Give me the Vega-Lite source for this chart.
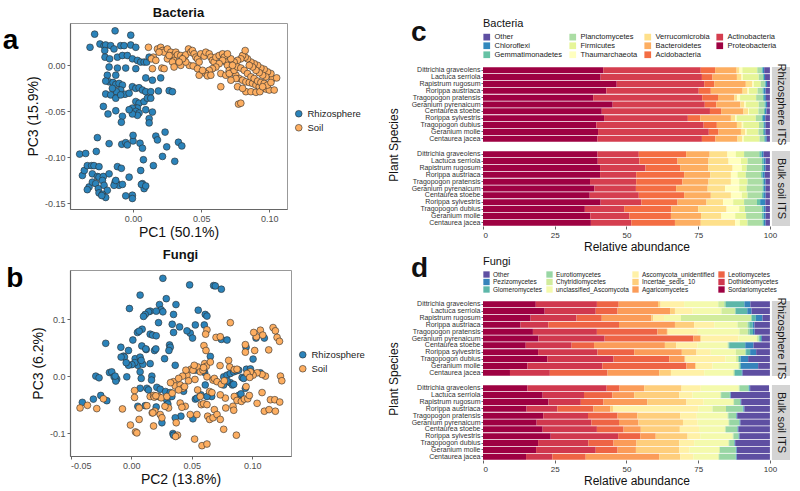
{
"$schema": "https://vega.github.io/schema/vega-lite/v6.json",
"background": "white",
"padding": {"left": 2, "top": 6, "right": 2, "bottom": 2},
"config": {
  "font": "Liberation Sans",
  "view": {"stroke": null},
  "axis": {"grid": false, "labelColor": "#4d4d4d", "titleColor": "#111", "tickColor": "#666", "domainColor": "#666", "titleFontWeight": "normal"},
  "title": {"color": "#111"}
},
"resolve": {"scale": {"color": "independent"}, "legend": {"color": "independent"}},
"datasets": {
"bacPCA": [
{"Type":"Rhizosphere","PC1":-0.0282,"PC3":0.0339},{"Type":"Rhizosphere","PC1":-0.0132,"PC3":0.0375},{"Type":"Rhizosphere","PC1":-0.0017,"PC3":0.0328},{"Type":"Rhizosphere","PC1":-0.0316,"PC3":0.0196},{"Type":"Rhizosphere","PC1":-0.0243,"PC3":0.0232},{"Type":"Rhizosphere","PC1":-0.0213,"PC3":0.0214},{"Type":"Rhizosphere","PC1":-0.0201,"PC3":0.0221},{"Type":"Rhizosphere","PC1":-0.0208,"PC3":0.0161},{"Type":"Rhizosphere","PC1":-0.0164,"PC3":0.0214},{"Type":"Rhizosphere","PC1":-0.014,"PC3":0.0178},
{"Type":"Rhizosphere","PC1":-0.0091,"PC3":0.0214},{"Type":"Rhizosphere","PC1":-0.0066,"PC3":0.0214},{"Type":"Rhizosphere","PC1":-0.0017,"PC3":0.0221},{"Type":"Rhizosphere","PC1":0.002,"PC3":0.0196},{"Type":"Rhizosphere","PC1":-0.0206,"PC3":0.0089},{"Type":"Rhizosphere","PC1":-0.0172,"PC3":0.0071},{"Type":"Rhizosphere","PC1":-0.0115,"PC3":0.0089},{"Type":"Rhizosphere","PC1":-0.0078,"PC3":0.0107},{"Type":"Rhizosphere","PC1":-0.0042,"PC3":0.0107},{"Type":"Rhizosphere","PC1":-0.0005,"PC3":0.0071},
{"Type":"Rhizosphere","PC1":0.0032,"PC3":0.0054},{"Type":"Rhizosphere","PC1":0.0056,"PC3":0.0036},{"Type":"Rhizosphere","PC1":0.0081,"PC3":0.0036},{"Type":"Rhizosphere","PC1":0.01,"PC3":0.0036},{"Type":"Rhizosphere","PC1":0.0118,"PC3":0.0089},{"Type":"Rhizosphere","PC1":-0.0176,"PC3":-0.0018},{"Type":"Rhizosphere","PC1":-0.0115,"PC3":-0.0029},{"Type":"Rhizosphere","PC1":-0.0054,"PC3":-0.0029},{"Type":"Rhizosphere","PC1":0.002,"PC3":-0.0036},{"Type":"Rhizosphere","PC1":-0.0127,"PC3":-0.0107},
{"Type":"Rhizosphere","PC1":-0.0189,"PC3":-0.0107},{"Type":"Rhizosphere","PC1":0.0093,"PC3":-0.0136},{"Type":"Rhizosphere","PC1":0.0142,"PC3":-0.0161},{"Type":"Rhizosphere","PC1":0.0203,"PC3":-0.0136},{"Type":"Rhizosphere","PC1":-0.0176,"PC3":-0.0179},{"Type":"Rhizosphere","PC1":-0.0147,"PC3":-0.0186},{"Type":"Rhizosphere","PC1":-0.0127,"PC3":-0.0207},{"Type":"Rhizosphere","PC1":-0.0103,"PC3":-0.0196},{"Type":"Rhizosphere","PC1":-0.0078,"PC3":-0.0214},{"Type":"Rhizosphere","PC1":-0.0091,"PC3":-0.0268},
{"Type":"Rhizosphere","PC1":-0.0123,"PC3":-0.0286},{"Type":"Rhizosphere","PC1":-0.0152,"PC3":-0.025},{"Type":"Rhizosphere","PC1":-0.0201,"PC3":-0.0171},{"Type":"Rhizosphere","PC1":-0.0201,"PC3":-0.0311},{"Type":"Rhizosphere","PC1":-0.0164,"PC3":-0.0321},{"Type":"Rhizosphere","PC1":-0.0059,"PC3":-0.0314},{"Type":"Rhizosphere","PC1":-0.0029,"PC3":-0.0303},{"Type":"Rhizosphere","PC1":-0.0005,"PC3":-0.0232},{"Type":"Rhizosphere","PC1":0.002,"PC3":-0.025},{"Type":"Rhizosphere","PC1":0.0044,"PC3":-0.0243},
{"Type":"Rhizosphere","PC1":0.0069,"PC3":-0.0268},{"Type":"Rhizosphere","PC1":0.0093,"PC3":-0.0286},{"Type":"Rhizosphere","PC1":0.013,"PC3":-0.0286},{"Type":"Rhizosphere","PC1":0.0186,"PC3":-0.0278},{"Type":"Rhizosphere","PC1":0.0265,"PC3":-0.0275},{"Type":"Rhizosphere","PC1":0.0289,"PC3":-0.0286},{"Type":"Rhizosphere","PC1":-0.0127,"PC3":-0.0357},{"Type":"Rhizosphere","PC1":-0.0091,"PC3":-0.0321},{"Type":"Rhizosphere","PC1":0.002,"PC3":-0.0393},{"Type":"Rhizosphere","PC1":0.0044,"PC3":-0.0411},
{"Type":"Rhizosphere","PC1":0.0081,"PC3":-0.0393},{"Type":"Rhizosphere","PC1":0.0105,"PC3":-0.0357},{"Type":"Rhizosphere","PC1":0.013,"PC3":-0.0357},{"Type":"Rhizosphere","PC1":0.0032,"PC3":-0.0464},{"Type":"Rhizosphere","PC1":-0.0005,"PC3":-0.0464},{"Type":"Rhizosphere","PC1":0.002,"PC3":-0.05},{"Type":"Rhizosphere","PC1":0.0044,"PC3":-0.0518},{"Type":"Rhizosphere","PC1":0.0032,"PC3":-0.0543},{"Type":"Rhizosphere","PC1":-0.0005,"PC3":-0.0528},{"Type":"Rhizosphere","PC1":-0.0029,"PC3":-0.0482},
{"Type":"Rhizosphere","PC1":0.0093,"PC3":-0.0482},{"Type":"Rhizosphere","PC1":0.0142,"PC3":-0.0507},{"Type":"Rhizosphere","PC1":-0.0218,"PC3":-0.0446},{"Type":"Rhizosphere","PC1":-0.0184,"PC3":-0.0528},{"Type":"Rhizosphere","PC1":-0.0127,"PC3":-0.0493},{"Type":"Rhizosphere","PC1":-0.0078,"PC3":-0.0553},{"Type":"Rhizosphere","PC1":-0.0086,"PC3":-0.0618},{"Type":"Rhizosphere","PC1":0.0118,"PC3":-0.0578},{"Type":"Rhizosphere","PC1":0.0118,"PC3":-0.0625},{"Type":"Rhizosphere","PC1":-0.0262,"PC3":-0.0785},
{"Type":"Rhizosphere","PC1":-0.0176,"PC3":-0.085},{"Type":"Rhizosphere","PC1":-0.0083,"PC3":-0.0857},{"Type":"Rhizosphere","PC1":-0.0054,"PC3":-0.0839},{"Type":"Rhizosphere","PC1":-0.0042,"PC3":-0.0864},{"Type":"Rhizosphere","PC1":0.0,"PC3":-0.0821},{"Type":"Rhizosphere","PC1":0.0,"PC3":-0.076},{"Type":"Rhizosphere","PC1":0.0051,"PC3":-0.0846},{"Type":"Rhizosphere","PC1":0.0069,"PC3":-0.09},{"Type":"Rhizosphere","PC1":0.0167,"PC3":-0.0768},{"Type":"Rhizosphere","PC1":0.0235,"PC3":-0.0725},
{"Type":"Rhizosphere","PC1":0.0179,"PC3":-0.081},{"Type":"Rhizosphere","PC1":0.0247,"PC3":-0.0885},{"Type":"Rhizosphere","PC1":0.0333,"PC3":-0.0835},{"Type":"Rhizosphere","PC1":0.0358,"PC3":-0.0875},{"Type":"Rhizosphere","PC1":-0.0392,"PC3":-0.0964},{"Type":"Rhizosphere","PC1":-0.0348,"PC3":-0.0957},{"Type":"Rhizosphere","PC1":-0.027,"PC3":-0.0935},{"Type":"Rhizosphere","PC1":-0.0372,"PC3":-0.1196},{"Type":"Rhizosphere","PC1":-0.0358,"PC3":-0.1142},{"Type":"Rhizosphere","PC1":-0.0336,"PC3":-0.1089},
{"Type":"Rhizosphere","PC1":-0.0304,"PC3":-0.1089},{"Type":"Rhizosphere","PC1":-0.0287,"PC3":-0.1089},{"Type":"Rhizosphere","PC1":-0.025,"PC3":-0.11},{"Type":"Rhizosphere","PC1":-0.0299,"PC3":-0.1178},{"Type":"Rhizosphere","PC1":-0.0262,"PC3":-0.1207},{"Type":"Rhizosphere","PC1":-0.025,"PC3":-0.1214},{"Type":"Rhizosphere","PC1":-0.0218,"PC3":-0.1207},{"Type":"Rhizosphere","PC1":-0.0225,"PC3":-0.125},{"Type":"Rhizosphere","PC1":-0.0323,"PC3":-0.1321},{"Type":"Rhizosphere","PC1":-0.0336,"PC3":-0.135},
{"Type":"Rhizosphere","PC1":-0.0299,"PC3":-0.1268},{"Type":"Rhizosphere","PC1":-0.0274,"PC3":-0.1285},{"Type":"Rhizosphere","PC1":-0.0255,"PC3":-0.1339},{"Type":"Rhizosphere","PC1":-0.0213,"PC3":-0.1303},{"Type":"Rhizosphere","PC1":-0.0189,"PC3":-0.1357},{"Type":"Rhizosphere","PC1":-0.025,"PC3":-0.1385},{"Type":"Rhizosphere","PC1":-0.0225,"PC3":-0.14},{"Type":"Rhizosphere","PC1":-0.0201,"PC3":-0.1435},{"Type":"Rhizosphere","PC1":-0.023,"PC3":-0.1414},{"Type":"Rhizosphere","PC1":-0.0132,"PC3":-0.1268},
{"Type":"Rhizosphere","PC1":-0.012,"PC3":-0.1285},{"Type":"Rhizosphere","PC1":-0.0103,"PC3":-0.1303},{"Type":"Rhizosphere","PC1":-0.0078,"PC3":-0.1293},{"Type":"Rhizosphere","PC1":-0.014,"PC3":-0.1303},{"Type":"Rhizosphere","PC1":-0.0127,"PC3":-0.125},{"Type":"Rhizosphere","PC1":-0.0176,"PC3":-0.1178},{"Type":"Rhizosphere","PC1":-0.0115,"PC3":-0.11},{"Type":"Rhizosphere","PC1":-0.0086,"PC3":-0.1118},{"Type":"Rhizosphere","PC1":-0.0029,"PC3":-0.1214},{"Type":"Rhizosphere","PC1":-0.0005,"PC3":-0.141},
{"Type":"Rhizosphere","PC1":-0.0054,"PC3":-0.1417},{"Type":"Rhizosphere","PC1":-0.0005,"PC3":-0.1446},{"Type":"Rhizosphere","PC1":0.0056,"PC3":-0.1142},{"Type":"Rhizosphere","PC1":0.0069,"PC3":-0.1285},{"Type":"Rhizosphere","PC1":0.0081,"PC3":-0.1339},{"Type":"Rhizosphere","PC1":0.0076,"PC3":-0.1025},{"Type":"Rhizosphere","PC1":0.0149,"PC3":-0.1089},{"Type":"Rhizosphere","PC1":0.0216,"PC3":-0.0989},{"Type":"Rhizosphere","PC1":0.0306,"PC3":-0.1042},{"Type":"Rhizosphere","PC1":0.0061,"PC3":-0.1293},
{"Type":"Rhizosphere","PC1":0.0093,"PC3":-0.131},
{"Type":"Soil","PC1":0.0113,"PC3":0.0196},{"Type":"Soil","PC1":0.0149,"PC3":0.0089},{"Type":"Soil","PC1":0.0135,"PC3":0.0071},{"Type":"Soil","PC1":0.0179,"PC3":0.0178},{"Type":"Soil","PC1":0.0203,"PC3":0.0196},{"Type":"Soil","PC1":0.0216,"PC3":0.0161},{"Type":"Soil","PC1":0.0228,"PC3":0.0143},{"Type":"Soil","PC1":0.0252,"PC3":0.0178},{"Type":"Soil","PC1":0.0277,"PC3":0.0143},{"Type":"Soil","PC1":0.0289,"PC3":0.0107},
{"Type":"Soil","PC1":0.0301,"PC3":0.0054},{"Type":"Soil","PC1":0.0314,"PC3":0.0143},{"Type":"Soil","PC1":0.0326,"PC3":0.0114},{"Type":"Soil","PC1":0.035,"PC3":0.0107},{"Type":"Soil","PC1":0.0375,"PC3":0.0089},{"Type":"Soil","PC1":0.0387,"PC3":0.0114},{"Type":"Soil","PC1":0.0407,"PC3":0.0178},{"Type":"Soil","PC1":0.0424,"PC3":0.0143},{"Type":"Soil","PC1":0.0436,"PC3":0.0161},{"Type":"Soil","PC1":0.0448,"PC3":0.0125},
{"Type":"Soil","PC1":0.0461,"PC3":0.0089},{"Type":"Soil","PC1":0.0473,"PC3":0.0071},{"Type":"Soil","PC1":0.0485,"PC3":0.0036},{"Type":"Soil","PC1":0.0412,"PC3":0.0},{"Type":"Soil","PC1":0.0441,"PC3":-0.0007},{"Type":"Soil","PC1":0.0473,"PC3":-0.0036},{"Type":"Soil","PC1":0.0252,"PC3":0.0071},{"Type":"Soil","PC1":0.0289,"PC3":0.0036},{"Type":"Soil","PC1":0.0211,"PC3":-0.0029},{"Type":"Soil","PC1":0.0228,"PC3":-0.0036},
{"Type":"Soil","PC1":0.0142,"PC3":-0.0036},{"Type":"Soil","PC1":0.0301,"PC3":-0.0018},{"Type":"Soil","PC1":0.035,"PC3":0.0},{"Type":"Soil","PC1":0.0387,"PC3":0.0036},{"Type":"Soil","PC1":0.0497,"PC3":0.0125},{"Type":"Soil","PC1":0.0522,"PC3":0.01},{"Type":"Soil","PC1":0.0534,"PC3":0.0143},{"Type":"Soil","PC1":0.0559,"PC3":0.0125},{"Type":"Soil","PC1":0.0571,"PC3":0.0089},{"Type":"Soil","PC1":0.0583,"PC3":0.0054},
{"Type":"Soil","PC1":0.0595,"PC3":0.0036},{"Type":"Soil","PC1":0.0608,"PC3":0.0089},{"Type":"Soil","PC1":0.0632,"PC3":0.0107},{"Type":"Soil","PC1":0.0657,"PC3":0.0125},{"Type":"Soil","PC1":0.0669,"PC3":0.0089},{"Type":"Soil","PC1":0.0681,"PC3":0.0036},{"Type":"Soil","PC1":0.0693,"PC3":0.0},{"Type":"Soil","PC1":0.0706,"PC3":-0.0054},{"Type":"Soil","PC1":0.073,"PC3":-0.0071},{"Type":"Soil","PC1":0.0755,"PC3":-0.0107},
{"Type":"Soil","PC1":0.0779,"PC3":-0.0143},{"Type":"Soil","PC1":0.0804,"PC3":-0.0161},{"Type":"Soil","PC1":0.0828,"PC3":-0.0179},{"Type":"Soil","PC1":0.0853,"PC3":-0.0186},{"Type":"Soil","PC1":0.0877,"PC3":-0.0196},{"Type":"Soil","PC1":0.0902,"PC3":-0.0214},{"Type":"Soil","PC1":0.0926,"PC3":-0.0232},{"Type":"Soil","PC1":0.0951,"PC3":-0.025},{"Type":"Soil","PC1":0.0975,"PC3":-0.0257},{"Type":"Soil","PC1":0.1,"PC3":-0.0268},
{"Type":"Soil","PC1":0.1024,"PC3":-0.0143},{"Type":"Soil","PC1":0.1054,"PC3":-0.0136},{"Type":"Soil","PC1":0.1012,"PC3":-0.0089},{"Type":"Soil","PC1":0.0987,"PC3":-0.0071},{"Type":"Soil","PC1":0.0963,"PC3":-0.0043},{"Type":"Soil","PC1":0.0938,"PC3":-0.0029},{"Type":"Soil","PC1":0.0914,"PC3":0.0},{"Type":"Soil","PC1":0.0889,"PC3":0.0018},{"Type":"Soil","PC1":0.0865,"PC3":0.0036},{"Type":"Soil","PC1":0.084,"PC3":0.0071},
{"Type":"Soil","PC1":0.0823,"PC3":0.0089},{"Type":"Soil","PC1":0.0804,"PC3":0.0107},{"Type":"Soil","PC1":0.0791,"PC3":0.0071},{"Type":"Soil","PC1":0.0767,"PC3":0.0054},{"Type":"Soil","PC1":0.0742,"PC3":0.0036},{"Type":"Soil","PC1":0.0718,"PC3":0.0071},{"Type":"Soil","PC1":0.0693,"PC3":0.0125},{"Type":"Soil","PC1":0.0657,"PC3":0.0054},{"Type":"Soil","PC1":0.0632,"PC3":0.0018},{"Type":"Soil","PC1":0.0608,"PC3":-0.0018},
{"Type":"Soil","PC1":0.0583,"PC3":-0.0036},{"Type":"Soil","PC1":0.0559,"PC3":-0.0054},{"Type":"Soil","PC1":0.0534,"PC3":-0.0089},{"Type":"Soil","PC1":0.0546,"PC3":-0.0114},{"Type":"Soil","PC1":0.0571,"PC3":-0.0107},{"Type":"Soil","PC1":0.0644,"PC3":-0.0089},{"Type":"Soil","PC1":0.0681,"PC3":-0.0107},{"Type":"Soil","PC1":0.0706,"PC3":-0.0089},{"Type":"Soil","PC1":0.0742,"PC3":-0.0054},{"Type":"Soil","PC1":0.0767,"PC3":-0.0018},
{"Type":"Soil","PC1":0.0791,"PC3":-0.0029},{"Type":"Soil","PC1":0.0816,"PC3":-0.0054},{"Type":"Soil","PC1":0.084,"PC3":-0.0089},{"Type":"Soil","PC1":0.0865,"PC3":-0.0125},{"Type":"Soil","PC1":0.0889,"PC3":-0.0143},{"Type":"Soil","PC1":0.0914,"PC3":-0.0171},{"Type":"Soil","PC1":0.0938,"PC3":-0.0186},{"Type":"Soil","PC1":0.0963,"PC3":-0.0196},{"Type":"Soil","PC1":0.0987,"PC3":-0.0214},{"Type":"Soil","PC1":0.1012,"PC3":-0.0186},
{"Type":"Soil","PC1":0.0975,"PC3":-0.0125},{"Type":"Soil","PC1":0.0951,"PC3":-0.0107},{"Type":"Soil","PC1":0.0926,"PC3":-0.0079},{"Type":"Soil","PC1":0.0902,"PC3":-0.0054},{"Type":"Soil","PC1":0.0877,"PC3":-0.0018},{"Type":"Soil","PC1":0.0853,"PC3":0.0},{"Type":"Soil","PC1":0.0823,"PC3":0.0161},{"Type":"Soil","PC1":0.0767,"PC3":-0.0232},{"Type":"Soil","PC1":0.0828,"PC3":-0.0286},{"Type":"Soil","PC1":0.0865,"PC3":-0.0286},
{"Type":"Soil","PC1":0.0902,"PC3":-0.0293},{"Type":"Soil","PC1":0.0931,"PC3":-0.0286},{"Type":"Soil","PC1":0.0951,"PC3":-0.0232},{"Type":"Soil","PC1":0.1036,"PC3":-0.0268},{"Type":"Soil","PC1":0.0774,"PC3":-0.0421},{"Type":"Soil","PC1":0.0791,"PC3":-0.0411},{"Type":"Soil","PC1":0.0644,"PC3":-0.0232},{"Type":"Soil","PC1":0.0804,"PC3":-0.025},{"Type":"Soil","PC1":0.0755,"PC3":-0.0143},{"Type":"Soil","PC1":0.073,"PC3":0.0},
{"Type":"Soil","PC1":0.0718,"PC3":-0.0161},{"Type":"Soil","PC1":0.0485,"PC3":-0.0107},{"Type":"Soil","PC1":0.051,"PC3":-0.0054},{"Type":"Soil","PC1":0.0363,"PC3":0.0071},{"Type":"Soil","PC1":0.0338,"PC3":0.0036},{"Type":"Soil","PC1":0.0265,"PC3":0.0107},{"Type":"Soil","PC1":0.0167,"PC3":0.0054},{"Type":"Soil","PC1":0.0191,"PC3":0.0143}
],
"funPCA": [
{"Type":"Rhizosphere","PC2":0.0262,"PC3":0.1714},{"Type":"Rhizosphere","PC2":0.0483,"PC3":0.1599},{"Type":"Rhizosphere","PC2":0.0681,"PC3":0.1587},{"Type":"Rhizosphere","PC2":0.0695,"PC3":0.1581},{"Type":"Rhizosphere","PC2":0.0745,"PC3":0.1524},{"Type":"Rhizosphere","PC2":0.0074,"PC3":0.142},{"Type":"Rhizosphere","PC2":0.029,"PC3":0.1357},{"Type":"Rhizosphere","PC2":0.037,"PC3":0.1254},{"Type":"Rhizosphere","PC2":-0.0014,"PC3":0.1185},{"Type":"Rhizosphere","PC2":0.0234,"PC3":0.1254},
{"Type":"Rhizosphere","PC2":0.0248,"PC3":0.1162},{"Type":"Rhizosphere","PC2":0.0157,"PC3":0.1139},{"Type":"Rhizosphere","PC2":0.0143,"PC3":0.1127},{"Type":"Rhizosphere","PC2":0.0116,"PC3":0.1081},{"Type":"Rhizosphere","PC2":0.0102,"PC3":0.1047},{"Type":"Rhizosphere","PC2":0.0207,"PC3":0.1139},{"Type":"Rhizosphere","PC2":0.0262,"PC3":0.1127},{"Type":"Rhizosphere","PC2":0.0226,"PC3":0.0937},{"Type":"Rhizosphere","PC2":0.035,"PC3":0.1081},{"Type":"Rhizosphere","PC2":0.0554,"PC3":0.1156},
{"Type":"Rhizosphere","PC2":0.0612,"PC3":0.1081},{"Type":"Rhizosphere","PC2":0.0626,"PC3":0.1052},{"Type":"Rhizosphere","PC2":0.053,"PC3":0.0897},{"Type":"Rhizosphere","PC2":0.0604,"PC3":0.0897},{"Type":"Rhizosphere","PC2":0.0488,"PC3":0.0753},{"Type":"Rhizosphere","PC2":0.0507,"PC3":0.0667},{"Type":"Rhizosphere","PC2":0.035,"PC3":0.0765},{"Type":"Rhizosphere","PC2":0.0317,"PC3":0.0546},{"Type":"Rhizosphere","PC2":0.0323,"PC3":0.0506},{"Type":"Rhizosphere","PC2":0.0312,"PC3":0.0449},
{"Type":"Rhizosphere","PC2":0.0157,"PC3":0.0736},{"Type":"Rhizosphere","PC2":0.0091,"PC3":0.0822},{"Type":"Rhizosphere","PC2":0.0052,"PC3":0.0765},{"Type":"Rhizosphere","PC2":0.0066,"PC3":0.0788},{"Type":"Rhizosphere","PC2":0.0014,"PC3":0.0633},{"Type":"Rhizosphere","PC2":0.0177,"PC3":0.0719},{"Type":"Rhizosphere","PC2":0.0207,"PC3":0.0707},{"Type":"Rhizosphere","PC2":-0.021,"PC3":0.0575},{"Type":"Rhizosphere","PC2":-0.0085,"PC3":0.0506},{"Type":"Rhizosphere","PC2":-0.0022,"PC3":0.0449},
{"Type":"Rhizosphere","PC2":-0.0063,"PC3":0.0351},{"Type":"Rhizosphere","PC2":-0.0055,"PC3":0.0334},{"Type":"Rhizosphere","PC2":-0.0083,"PC3":0.0334},{"Type":"Rhizosphere","PC2":0.0033,"PC3":0.0305},{"Type":"Rhizosphere","PC2":0.0074,"PC3":0.0334},{"Type":"Rhizosphere","PC2":0.0124,"PC3":0.0466},{"Type":"Rhizosphere","PC2":0.0193,"PC3":0.0449},{"Type":"Rhizosphere","PC2":0.0204,"PC3":0.0477},{"Type":"Rhizosphere","PC2":0.0276,"PC3":0.0305},{"Type":"Rhizosphere","PC2":0.0055,"PC3":0.019},
{"Type":"Rhizosphere","PC2":0.0097,"PC3":0.0207},{"Type":"Rhizosphere","PC2":0.003,"PC3":0.0236},{"Type":"Rhizosphere","PC2":0.0083,"PC3":0.0276},{"Type":"Rhizosphere","PC2":0.0088,"PC3":0.0529},{"Type":"Rhizosphere","PC2":0.0121,"PC3":0.0477},{"Type":"Rhizosphere","PC2":0.0006,"PC3":0.0201},{"Type":"Rhizosphere","PC2":-0.0022,"PC3":0.019},{"Type":"Rhizosphere","PC2":-0.0041,"PC3":0.0236},{"Type":"Rhizosphere","PC2":0.0157,"PC3":0.0219},{"Type":"Rhizosphere","PC2":0.0364,"PC3":0.019},
{"Type":"Rhizosphere","PC2":-0.0036,"PC3":-0.0012},{"Type":"Rhizosphere","PC2":-0.0179,"PC3":0.0063},{"Type":"Rhizosphere","PC2":-0.016,"PC3":0.0075},{"Type":"Rhizosphere","PC2":-0.0141,"PC3":-0.0012},{"Type":"Rhizosphere","PC2":-0.0119,"PC3":-0.0052},{"Type":"Rhizosphere","PC2":-0.0127,"PC3":-0.0086},{"Type":"Rhizosphere","PC2":-0.0292,"PC3":0.0},{"Type":"Rhizosphere","PC2":-0.0265,"PC3":-0.0029},{"Type":"Rhizosphere","PC2":-0.0132,"PC3":0.0},{"Type":"Rhizosphere","PC2":0.0074,"PC3":0.0075},
{"Type":"Rhizosphere","PC2":0.0083,"PC3":-0.004},{"Type":"Rhizosphere","PC2":0.0171,"PC3":0.0},{"Type":"Rhizosphere","PC2":0.0168,"PC3":-0.0069},{"Type":"Rhizosphere","PC2":0.013,"PC3":-0.0213},{"Type":"Rhizosphere","PC2":0.0143,"PC3":-0.0242},{"Type":"Rhizosphere","PC2":0.0074,"PC3":-0.0213},{"Type":"Rhizosphere","PC2":0.0212,"PC3":-0.0196},{"Type":"Rhizosphere","PC2":0.024,"PC3":-0.023},{"Type":"Rhizosphere","PC2":0.0284,"PC3":-0.027},{"Type":"Rhizosphere","PC2":0.0323,"PC3":-0.0288},
{"Type":"Rhizosphere","PC2":0.0433,"PC3":-0.0265},{"Type":"Rhizosphere","PC2":0.0336,"PC3":-0.0357},{"Type":"Rhizosphere","PC2":0.0201,"PC3":-0.0357},{"Type":"Rhizosphere","PC2":0.0295,"PC3":-0.0426},{"Type":"Rhizosphere","PC2":0.0303,"PC3":-0.0489},{"Type":"Rhizosphere","PC2":0.0254,"PC3":-0.0817},{"Type":"Rhizosphere","PC2":0.0411,"PC3":-0.0702},{"Type":"Rhizosphere","PC2":0.0364,"PC3":-0.073},{"Type":"Rhizosphere","PC2":0.051,"PC3":-0.0748},{"Type":"Rhizosphere","PC2":0.0055,"PC3":-0.0529},
{"Type":"Rhizosphere","PC2":0.0116,"PC3":-0.0518},{"Type":"Rhizosphere","PC2":0.0207,"PC3":-0.0541},{"Type":"Rhizosphere","PC2":-0.0312,"PC3":-0.0403},{"Type":"Rhizosphere","PC2":-0.0251,"PC3":-0.0339},{"Type":"Rhizosphere","PC2":-0.0201,"PC3":-0.0431},{"Type":"Rhizosphere","PC2":-0.0403,"PC3":-0.046},{"Type":"Rhizosphere","PC2":0.053,"PC3":-0.0403},{"Type":"Rhizosphere","PC2":0.0576,"PC3":-0.0328},{"Type":"Rhizosphere","PC2":0.0543,"PC3":-0.0385},{"Type":"Rhizosphere","PC2":0.0665,"PC3":-0.0357},
{"Type":"Rhizosphere","PC2":0.0612,"PC3":-0.0155},{"Type":"Rhizosphere","PC2":0.0626,"PC3":-0.0357},{"Type":"Rhizosphere","PC2":0.0532,"PC3":0.0104},{"Type":"Rhizosphere","PC2":0.0607,"PC3":0.0063},{"Type":"Rhizosphere","PC2":0.0764,"PC3":-0.0012},{"Type":"Rhizosphere","PC2":0.0792,"PC3":0.0017},{"Type":"Rhizosphere","PC2":0.0819,"PC3":0.0046},{"Type":"Rhizosphere","PC2":0.0847,"PC3":0.0075},{"Type":"Rhizosphere","PC2":0.0869,"PC3":0.0092},{"Type":"Rhizosphere","PC2":0.0888,"PC3":0.0104},
{"Type":"Rhizosphere","PC2":0.0916,"PC3":-0.0023},{"Type":"Rhizosphere","PC2":0.0819,"PC3":-0.0115},{"Type":"Rhizosphere","PC2":0.0836,"PC3":-0.0155},{"Type":"Rhizosphere","PC2":0.0792,"PC3":-0.0086},{"Type":"Rhizosphere","PC2":0.0764,"PC3":-0.0155},{"Type":"Rhizosphere","PC2":0.0847,"PC3":-0.0144},{"Type":"Rhizosphere","PC2":0.0929,"PC3":-0.004},{"Type":"Rhizosphere","PC2":0.0943,"PC3":-0.0213},{"Type":"Rhizosphere","PC2":0.0952,"PC3":0.0121},{"Type":"Rhizosphere","PC2":0.0985,"PC3":0.0127},
{"Type":"Rhizosphere","PC2":0.0993,"PC3":0.0035},{"Type":"Rhizosphere","PC2":0.1012,"PC3":0.0046},{"Type":"Rhizosphere","PC2":0.1067,"PC3":0.0058},{"Type":"Rhizosphere","PC2":0.0888,"PC3":-0.0339},{"Type":"Rhizosphere","PC2":0.0907,"PC3":-0.0311},{"Type":"Rhizosphere","PC2":0.0949,"PC3":0.0506},{"Type":"Rhizosphere","PC2":0.1007,"PC3":0.0299},{"Type":"Rhizosphere","PC2":0.1031,"PC3":0.0667},{"Type":"Rhizosphere","PC2":0.11,"PC3":0.0667},{"Type":"Rhizosphere","PC2":0.0598,"PC3":0.0104},
{"Type":"Rhizosphere","PC2":0.0654,"PC3":0.0345},{"Type":"Rhizosphere","PC2":0.0461,"PC3":0.0794},{"Type":"Rhizosphere","PC2":0.0345,"PC3":-0.1006},{"Type":"Rhizosphere","PC2":0.035,"PC3":-0.1035},{"Type":"Rhizosphere","PC2":0.04,"PC3":0.0863},{"Type":"Rhizosphere","PC2":0.0745,"PC3":0.0644},{"Type":"Rhizosphere","PC2":0.0792,"PC3":0.0633},{"Type":"Rhizosphere","PC2":0.0339,"PC3":0.0909},
{"Type":"Soil","PC2":-0.0422,"PC3":-0.0558},{"Type":"Soil","PC2":-0.0361,"PC3":-0.0512},{"Type":"Soil","PC2":-0.0284,"PC3":-0.0569},{"Type":"Soil","PC2":-0.0229,"PC3":-0.0397},{"Type":"Soil","PC2":-0.0072,"PC3":-0.0575},{"Type":"Soil","PC2":0.0028,"PC3":-0.0253},{"Type":"Soil","PC2":0.0028,"PC3":-0.0374},{"Type":"Soil","PC2":-0.0006,"PC3":-0.0857},{"Type":"Soil","PC2":0.0036,"PC3":-0.0978},{"Type":"Soil","PC2":0.0047,"PC3":-0.0995},
{"Type":"Soil","PC2":0.0066,"PC3":-0.0558},{"Type":"Soil","PC2":0.0066,"PC3":-0.0759},{"Type":"Soil","PC2":0.013,"PC3":-0.0518},{"Type":"Soil","PC2":0.0157,"PC3":-0.0357},{"Type":"Soil","PC2":0.0185,"PC3":-0.0339},{"Type":"Soil","PC2":0.019,"PC3":-0.0368},{"Type":"Soil","PC2":0.0226,"PC3":-0.0357},{"Type":"Soil","PC2":0.0248,"PC3":-0.038},{"Type":"Soil","PC2":0.0174,"PC3":-0.0644},{"Type":"Soil","PC2":0.0196,"PC3":-0.0615},
{"Type":"Soil","PC2":0.024,"PC3":-0.0673},{"Type":"Soil","PC2":0.0295,"PC3":-0.0357},{"Type":"Soil","PC2":0.0339,"PC3":-0.0299},{"Type":"Soil","PC2":0.035,"PC3":-0.0098},{"Type":"Soil","PC2":0.0364,"PC3":-0.0173},{"Type":"Soil","PC2":0.0405,"PC3":-0.0155},{"Type":"Soil","PC2":0.0427,"PC3":-0.0213},{"Type":"Soil","PC2":0.0441,"PC3":-0.0184},{"Type":"Soil","PC2":0.0461,"PC3":0.0017},{"Type":"Soil","PC2":0.0474,"PC3":-0.0081},
{"Type":"Soil","PC2":0.0494,"PC3":0.0121},{"Type":"Soil","PC2":0.0527,"PC3":-0.0058},{"Type":"Soil","PC2":0.0549,"PC3":0.0161},{"Type":"Soil","PC2":0.0571,"PC3":0.0075},{"Type":"Soil","PC2":0.0593,"PC3":0.0104},{"Type":"Soil","PC2":0.0601,"PC3":0.0535},{"Type":"Soil","PC2":0.0607,"PC3":0.0219},{"Type":"Soil","PC2":0.0621,"PC3":0.0173},{"Type":"Soil","PC2":0.0626,"PC3":-0.0012},{"Type":"Soil","PC2":0.0618,"PC3":0.0449},
{"Type":"Soil","PC2":0.0654,"PC3":0.0247},{"Type":"Soil","PC2":0.0676,"PC3":-0.0069},{"Type":"Soil","PC2":0.0687,"PC3":-0.004},{"Type":"Soil","PC2":0.0701,"PC3":0.0679},{"Type":"Soil","PC2":0.0709,"PC3":-0.0098},{"Type":"Soil","PC2":0.0736,"PC3":0.069},{"Type":"Soil","PC2":0.0745,"PC3":-0.0144},{"Type":"Soil","PC2":0.0769,"PC3":-0.0081},{"Type":"Soil","PC2":0.0805,"PC3":0.0276},{"Type":"Soil","PC2":0.0814,"PC3":0.0161},
{"Type":"Soil","PC2":0.0852,"PC3":0.0115},{"Type":"Soil","PC2":0.0874,"PC3":0.0121},{"Type":"Soil","PC2":0.0626,"PC3":0.0811},{"Type":"Soil","PC2":0.0615,"PC3":0.0736},{"Type":"Soil","PC2":0.0734,"PC3":0.0184},{"Type":"Soil","PC2":0.0778,"PC3":-0.0385},{"Type":"Soil","PC2":0.0781,"PC3":-0.0558},{"Type":"Soil","PC2":0.0841,"PC3":-0.0529},{"Type":"Soil","PC2":0.0847,"PC3":-0.0598},{"Type":"Soil","PC2":0.0852,"PC3":-0.0357},
{"Type":"Soil","PC2":0.0874,"PC3":-0.0426},{"Type":"Soil","PC2":0.091,"PC3":-0.0443},{"Type":"Soil","PC2":0.0935,"PC3":-0.0403},{"Type":"Soil","PC2":0.0949,"PC3":-0.0184},{"Type":"Soil","PC2":0.0963,"PC3":-0.0397},{"Type":"Soil","PC2":0.0976,"PC3":-0.0339},{"Type":"Soil","PC2":0.104,"PC3":-0.0477},{"Type":"Soil","PC2":0.1081,"PC3":-0.0288},{"Type":"Soil","PC2":0.11,"PC3":-0.0615},{"Type":"Soil","PC2":0.1139,"PC3":-0.0587},
{"Type":"Soil","PC2":0.115,"PC3":-0.0414},{"Type":"Soil","PC2":0.1186,"PC3":-0.0414},{"Type":"Soil","PC2":0.1227,"PC3":-0.0454},{"Type":"Soil","PC2":0.1191,"PC3":-0.0615},{"Type":"Soil","PC2":0.1233,"PC3":0.0},{"Type":"Soil","PC2":0.1244,"PC3":-0.0081},{"Type":"Soil","PC2":0.1109,"PC3":0.0},{"Type":"Soil","PC2":0.1081,"PC3":0.0029},{"Type":"Soil","PC2":0.104,"PC3":0.0058},{"Type":"Soil","PC2":0.1007,"PC3":0.0017},
{"Type":"Soil","PC2":0.0985,"PC3":0.0075},{"Type":"Soil","PC2":0.0957,"PC3":0.0046},{"Type":"Soil","PC2":0.0943,"PC3":0.042},{"Type":"Soil","PC2":0.0979,"PC3":-0.0023},{"Type":"Soil","PC2":0.102,"PC3":0.0449},{"Type":"Soil","PC2":0.1034,"PC3":0.069},{"Type":"Soil","PC2":0.1067,"PC3":0.0805},{"Type":"Soil","PC2":0.1136,"PC3":0.046},{"Type":"Soil","PC2":0.1172,"PC3":0.0851},{"Type":"Soil","PC2":0.1191,"PC3":0.0794},
{"Type":"Soil","PC2":0.1205,"PC3":0.0679},{"Type":"Soil","PC2":0.1225,"PC3":0.061},{"Type":"Soil","PC2":0.1087,"PC3":0.0719},{"Type":"Soil","PC2":0.1012,"PC3":0.0765},{"Type":"Soil","PC2":0.0943,"PC3":0.0552},{"Type":"Soil","PC2":0.0819,"PC3":0.0937},{"Type":"Soil","PC2":0.0598,"PC3":0.015},{"Type":"Soil","PC2":0.051,"PC3":0.0104},{"Type":"Soil","PC2":0.0521,"PC3":0.019},{"Type":"Soil","PC2":0.0452,"PC3":0.0104},
{"Type":"Soil","PC2":0.0425,"PC3":0.0},{"Type":"Soil","PC2":0.0392,"PC3":-0.004},{"Type":"Soil","PC2":0.0325,"PC3":-0.0115},{"Type":"Soil","PC2":0.0392,"PC3":-0.0242},{"Type":"Soil","PC2":0.0447,"PC3":-0.0529},{"Type":"Soil","PC2":0.0488,"PC3":-0.0673},{"Type":"Soil","PC2":0.0543,"PC3":-0.0673},{"Type":"Soil","PC2":0.0579,"PC3":-0.05},{"Type":"Soil","PC2":0.0598,"PC3":-0.0483},{"Type":"Soil","PC2":0.0626,"PC3":-0.05},
{"Type":"Soil","PC2":0.0632,"PC3":-0.0702},{"Type":"Soil","PC2":0.0648,"PC3":-0.0759},{"Type":"Soil","PC2":0.0676,"PC3":-0.073},{"Type":"Soil","PC2":0.0687,"PC3":-0.0587},{"Type":"Soil","PC2":0.0709,"PC3":-0.0673},{"Type":"Soil","PC2":0.0736,"PC3":-0.0759},{"Type":"Soil","PC2":0.0764,"PC3":-0.0932},{"Type":"Soil","PC2":0.0524,"PC3":-0.1104},{"Type":"Soil","PC2":0.0585,"PC3":-0.1219},{"Type":"Soil","PC2":0.0626,"PC3":-0.119},
{"Type":"Soil","PC2":0.0869,"PC3":-0.1035},{"Type":"Soil","PC2":0.0405,"PC3":-0.0472},{"Type":"Soil","PC2":0.0419,"PC3":-0.0546},{"Type":"Soil","PC2":0.0372,"PC3":-0.0817},{"Type":"Soil","PC2":0.0383,"PC3":-0.1035},{"Type":"Soil","PC2":0.0367,"PC3":-0.1058},{"Type":"Soil","PC2":0.0254,"PC3":-0.073},{"Type":"Soil","PC2":0.0185,"PC3":-0.0874},{"Type":"Soil","PC2":0.0179,"PC3":-0.0644},{"Type":"Soil","PC2":0.0309,"PC3":-0.0558},
{"Type":"Soil","PC2":0.0279,"PC3":-0.0529},{"Type":"Soil","PC2":0.0204,"PC3":-0.0345},{"Type":"Soil","PC2":0.0549,"PC3":-0.0242},{"Type":"Soil","PC2":0.0571,"PC3":-0.0357},{"Type":"Soil","PC2":0.0648,"PC3":-0.027},{"Type":"Soil","PC2":0.0667,"PC3":-0.0288},{"Type":"Soil","PC2":0.0736,"PC3":-0.0328}
],
"bacComp": [
{"Compartment":"Rhizosphere ITS","Species":"Dittrichia graveolens","Proteobacteria":41.9,"Actinobacteria":34.0,"Acidobacteria":5.0,"Bacteroidetes":7.5,"Verrucomicrobia":1.0,"Thaumarchaeota":1.0,"Firmicutes":5.2,"Planctomycetes":1.5,"Gemmatimonadetes":0.4,"Chloroflexi":0.5,"Other":2.0},
{"Compartment":"Rhizosphere ITS","Species":"Lactuca serriola","Proteobacteria":41.0,"Actinobacteria":35.3,"Acidobacteria":3.7,"Bacteroidetes":8.5,"Verrucomicrobia":1.6,"Thaumarchaeota":0.5,"Firmicutes":5.5,"Planctomycetes":1.5,"Gemmatimonadetes":0.3,"Chloroflexi":0.4,"Other":1.7},
{"Compartment":"Rhizosphere ITS","Species":"Rapistrum rugosum","Proteobacteria":46.6,"Actinobacteria":30.5,"Acidobacteria":3.5,"Bacteroidetes":11.0,"Verrucomicrobia":2.3,"Thaumarchaeota":0.5,"Firmicutes":2.4,"Planctomycetes":1.4,"Gemmatimonadetes":0.3,"Chloroflexi":0.5,"Other":1.0},
{"Compartment":"Rhizosphere ITS","Species":"Rorippa austriaca","Proteobacteria":43.0,"Actinobacteria":32.2,"Acidobacteria":4.2,"Bacteroidetes":11.1,"Verrucomicrobia":1.7,"Thaumarchaeota":0.5,"Firmicutes":3.0,"Planctomycetes":1.7,"Gemmatimonadetes":0.4,"Chloroflexi":0.7,"Other":1.5},
{"Compartment":"Rhizosphere ITS","Species":"Tragopogon pratensis","Proteobacteria":38.4,"Actinobacteria":38.0,"Acidobacteria":5.5,"Bacteroidetes":5.7,"Verrucomicrobia":1.0,"Thaumarchaeota":1.0,"Firmicutes":5.6,"Planctomycetes":2.4,"Gemmatimonadetes":0.4,"Chloroflexi":0.6,"Other":1.4},
{"Compartment":"Rhizosphere ITS","Species":"Geranium pyrenaicum","Proteobacteria":45.2,"Actinobacteria":32.1,"Acidobacteria":4.0,"Bacteroidetes":8.4,"Verrucomicrobia":1.4,"Thaumarchaeota":0.5,"Firmicutes":4.5,"Planctomycetes":2.0,"Gemmatimonadetes":0.4,"Chloroflexi":0.5,"Other":1.0},
{"Compartment":"Rhizosphere ITS","Species":"Centaurea stoebe","Proteobacteria":41.4,"Actinobacteria":37.7,"Acidobacteria":3.9,"Bacteroidetes":7.8,"Verrucomicrobia":1.6,"Thaumarchaeota":0.3,"Firmicutes":3.3,"Planctomycetes":1.9,"Gemmatimonadetes":0.4,"Chloroflexi":0.5,"Other":1.2},
{"Compartment":"Rhizosphere ITS","Species":"Rorippa sylvestris","Proteobacteria":42.2,"Actinobacteria":29.2,"Acidobacteria":4.3,"Bacteroidetes":10.7,"Verrucomicrobia":1.5,"Thaumarchaeota":0.5,"Firmicutes":6.7,"Planctomycetes":2.0,"Gemmatimonadetes":0.5,"Chloroflexi":0.8,"Other":1.6},
{"Compartment":"Rhizosphere ITS","Species":"Tragopogon dubius","Proteobacteria":39.5,"Actinobacteria":37.4,"Acidobacteria":4.6,"Bacteroidetes":7.0,"Verrucomicrobia":1.7,"Thaumarchaeota":0.5,"Firmicutes":5.5,"Planctomycetes":1.5,"Gemmatimonadetes":0.3,"Chloroflexi":0.5,"Other":1.5},
{"Compartment":"Rhizosphere ITS","Species":"Geranium molle","Proteobacteria":40.1,"Actinobacteria":38.6,"Acidobacteria":3.4,"Bacteroidetes":7.8,"Verrucomicrobia":1.5,"Thaumarchaeota":0.5,"Firmicutes":4.1,"Planctomycetes":1.6,"Gemmatimonadetes":0.4,"Chloroflexi":0.5,"Other":1.5},
{"Compartment":"Rhizosphere ITS","Species":"Centaurea jacea","Proteobacteria":39.9,"Actinobacteria":36.4,"Acidobacteria":4.7,"Bacteroidetes":7.7,"Verrucomicrobia":1.7,"Thaumarchaeota":0.5,"Firmicutes":5.5,"Planctomycetes":1.6,"Gemmatimonadetes":0.4,"Chloroflexi":0.5,"Other":1.1},
{"Compartment":"Bulk soil ITS","Species":"Dittrichia graveolens","Proteobacteria":39.9,"Actinobacteria":14.4,"Acidobacteria":16.5,"Bacteroidetes":8.2,"Verrucomicrobia":6.2,"Thaumarchaeota":2.9,"Firmicutes":2.9,"Planctomycetes":5.3,"Gemmatimonadetes":0.8,"Chloroflexi":0.7,"Other":2.2},
{"Compartment":"Bulk soil ITS","Species":"Lactuca serriola","Proteobacteria":40.0,"Actinobacteria":14.5,"Acidobacteria":13.3,"Bacteroidetes":10.8,"Verrucomicrobia":7.0,"Thaumarchaeota":4.3,"Firmicutes":2.3,"Planctomycetes":5.0,"Gemmatimonadetes":0.6,"Chloroflexi":0.7,"Other":1.5},
{"Compartment":"Bulk soil ITS","Species":"Rapistrum rugosum","Proteobacteria":40.8,"Actinobacteria":15.8,"Acidobacteria":12.1,"Bacteroidetes":9.8,"Verrucomicrobia":8.5,"Thaumarchaeota":3.2,"Firmicutes":1.7,"Planctomycetes":5.3,"Gemmatimonadetes":0.7,"Chloroflexi":0.6,"Other":1.5},
{"Compartment":"Bulk soil ITS","Species":"Rorippa austriaca","Proteobacteria":40.8,"Actinobacteria":12.6,"Acidobacteria":16.7,"Bacteroidetes":9.1,"Verrucomicrobia":7.2,"Thaumarchaeota":2.3,"Firmicutes":2.9,"Planctomycetes":5.3,"Gemmatimonadetes":0.5,"Chloroflexi":0.8,"Other":1.8},
{"Compartment":"Bulk soil ITS","Species":"Tragopogon pratensis","Proteobacteria":37.3,"Actinobacteria":16.1,"Acidobacteria":16.1,"Bacteroidetes":9.1,"Verrucomicrobia":7.8,"Thaumarchaeota":2.9,"Firmicutes":2.9,"Planctomycetes":5.2,"Gemmatimonadetes":0.5,"Chloroflexi":0.6,"Other":1.5},
{"Compartment":"Bulk soil ITS","Species":"Geranium pyrenaicum","Proteobacteria":38.8,"Actinobacteria":14.5,"Acidobacteria":14.0,"Bacteroidetes":11.0,"Verrucomicrobia":6.1,"Thaumarchaeota":4.9,"Firmicutes":2.6,"Planctomycetes":5.5,"Gemmatimonadetes":0.5,"Chloroflexi":0.6,"Other":1.5},
{"Compartment":"Bulk soil ITS","Species":"Centaurea stoebe","Proteobacteria":37.2,"Actinobacteria":17.1,"Acidobacteria":15.8,"Bacteroidetes":9.3,"Verrucomicrobia":7.0,"Thaumarchaeota":3.8,"Firmicutes":2.0,"Planctomycetes":5.0,"Gemmatimonadetes":0.5,"Chloroflexi":0.8,"Other":1.5},
{"Compartment":"Bulk soil ITS","Species":"Rorippa sylvestris","Proteobacteria":41.0,"Actinobacteria":14.2,"Acidobacteria":12.6,"Bacteroidetes":10.1,"Verrucomicrobia":5.8,"Thaumarchaeota":3.5,"Firmicutes":3.8,"Planctomycetes":4.5,"Gemmatimonadetes":1.1,"Chloroflexi":1.8,"Other":1.6},
{"Compartment":"Bulk soil ITS","Species":"Tragopogon dubius","Proteobacteria":35.5,"Actinobacteria":13.7,"Acidobacteria":16.5,"Bacteroidetes":9.3,"Verrucomicrobia":9.9,"Thaumarchaeota":4.4,"Firmicutes":2.0,"Planctomycetes":5.9,"Gemmatimonadetes":0.6,"Chloroflexi":0.7,"Other":1.5},
{"Compartment":"Bulk soil ITS","Species":"Geranium molle","Proteobacteria":37.4,"Actinobacteria":13.6,"Acidobacteria":14.5,"Bacteroidetes":10.5,"Verrucomicrobia":7.1,"Thaumarchaeota":4.8,"Firmicutes":3.8,"Planctomycetes":5.5,"Gemmatimonadetes":0.6,"Chloroflexi":0.7,"Other":1.5},
{"Compartment":"Bulk soil ITS","Species":"Centaurea jacea","Proteobacteria":37.6,"Actinobacteria":14.1,"Acidobacteria":15.2,"Bacteroidetes":9.0,"Verrucomicrobia":12.0,"Thaumarchaeota":1.6,"Firmicutes":2.7,"Planctomycetes":5.2,"Gemmatimonadetes":0.5,"Chloroflexi":0.6,"Other":1.5}
],
"funComp": [
{"Compartment":"Rhizosphere ITS","Species":"Dittrichia graveolens","Sordariomycetes":18.4,"Dothideomycetes":21.3,"Leotiomycetes":7.6,"Agaricomycetes":13.7,"Incertae_sedis_10":0.9,"Ascomycota_unidentified":8.2,"unclassified_Ascomycota":11.9,"Chytridiomycetes":2.1,"Eurotiomycetes":0.6,"Glomeromycetes":6.4,"Pezizomycetes":2.1,"Other":6.8},
{"Compartment":"Rhizosphere ITS","Species":"Lactuca serriola","Sordariomycetes":21.5,"Dothideomycetes":17.8,"Leotiomycetes":7.6,"Agaricomycetes":18.3,"Incertae_sedis_10":1.7,"Ascomycota_unidentified":6.2,"unclassified_Ascomycota":10.0,"Chytridiomycetes":4.7,"Eurotiomycetes":0.3,"Glomeromycetes":4.0,"Pezizomycetes":1.5,"Other":6.4},
{"Compartment":"Rhizosphere ITS","Species":"Rapistrum rugosum","Sordariomycetes":16.6,"Dothideomycetes":16.0,"Leotiomycetes":8.8,"Agaricomycetes":17.3,"Incertae_sedis_10":0.7,"Ascomycota_unidentified":3.7,"unclassified_Ascomycota":5.9,"Chytridiomycetes":24.4,"Eurotiomycetes":0.3,"Glomeromycetes":1.4,"Pezizomycetes":2.3,"Other":2.6},
{"Compartment":"Rhizosphere ITS","Species":"Rorippa austriaca","Sordariomycetes":13.1,"Dothideomycetes":9.7,"Leotiomycetes":24.6,"Agaricomycetes":19.5,"Incertae_sedis_10":6.7,"Ascomycota_unidentified":7.0,"unclassified_Ascomycota":8.1,"Chytridiomycetes":3.5,"Eurotiomycetes":0.6,"Glomeromycetes":1.2,"Pezizomycetes":0.6,"Other":5.4},
{"Compartment":"Rhizosphere ITS","Species":"Tragopogon pratensis","Sordariomycetes":17.4,"Dothideomycetes":22.3,"Leotiomycetes":21.1,"Agaricomycetes":3.3,"Incertae_sedis_10":0.3,"Ascomycota_unidentified":10.5,"unclassified_Ascomycota":14.5,"Chytridiomycetes":2.9,"Eurotiomycetes":0.6,"Glomeromycetes":1.2,"Pezizomycetes":0.6,"Other":5.3},
{"Compartment":"Rhizosphere ITS","Species":"Geranium pyrenaicum","Sordariomycetes":19.3,"Dothideomycetes":23.1,"Leotiomycetes":30.9,"Agaricomycetes":2.4,"Incertae_sedis_10":0.3,"Ascomycota_unidentified":13.0,"unclassified_Ascomycota":6.4,"Chytridiomycetes":0.6,"Eurotiomycetes":0.3,"Glomeromycetes":0.6,"Pezizomycetes":0.3,"Other":2.8},
{"Compartment":"Rhizosphere ITS","Species":"Centaurea stoebe","Sordariomycetes":14.9,"Dothideomycetes":16.0,"Leotiomycetes":7.8,"Agaricomycetes":24.7,"Incertae_sedis_10":4.0,"Ascomycota_unidentified":7.4,"unclassified_Ascomycota":10.4,"Chytridiomycetes":0.3,"Eurotiomycetes":0.3,"Glomeromycetes":5.6,"Pezizomycetes":2.9,"Other":5.7},
{"Compartment":"Rhizosphere ITS","Species":"Rorippa sylvestris","Sordariomycetes":19.2,"Dothideomycetes":20.7,"Leotiomycetes":12.8,"Agaricomycetes":16.6,"Incertae_sedis_10":5.1,"Ascomycota_unidentified":5.0,"unclassified_Ascomycota":8.7,"Chytridiomycetes":3.3,"Eurotiomycetes":0.3,"Glomeromycetes":1.4,"Pezizomycetes":2.1,"Other":4.8},
{"Compartment":"Rhizosphere ITS","Species":"Tragopogon dubius","Sordariomycetes":22.4,"Dothideomycetes":23.1,"Leotiomycetes":19.4,"Agaricomycetes":5.4,"Incertae_sedis_10":0.3,"Ascomycota_unidentified":13.9,"unclassified_Ascomycota":3.7,"Chytridiomycetes":0.7,"Eurotiomycetes":0.3,"Glomeromycetes":0.6,"Pezizomycetes":2.6,"Other":7.6},
{"Compartment":"Rhizosphere ITS","Species":"Geranium molle","Sordariomycetes":15.5,"Dothideomycetes":26.1,"Leotiomycetes":29.3,"Agaricomycetes":3.0,"Incertae_sedis_10":0.3,"Ascomycota_unidentified":5.8,"unclassified_Ascomycota":9.0,"Chytridiomycetes":0.3,"Eurotiomycetes":0.3,"Glomeromycetes":0.3,"Pezizomycetes":6.0,"Other":4.1},
{"Compartment":"Rhizosphere ITS","Species":"Centaurea jacea","Sordariomycetes":9.4,"Dothideomycetes":13.9,"Leotiomycetes":20.1,"Agaricomycetes":18.0,"Incertae_sedis_10":4.1,"Ascomycota_unidentified":11.6,"unclassified_Ascomycota":10.1,"Chytridiomycetes":0.3,"Eurotiomycetes":0.3,"Glomeromycetes":2.4,"Pezizomycetes":0.3,"Other":9.5},
{"Compartment":"Bulk soil ITS","Species":"Dittrichia graveolens","Sordariomycetes":15.5,"Dothideomycetes":27.6,"Leotiomycetes":4.5,"Agaricomycetes":8.6,"Incertae_sedis_10":13.0,"Ascomycota_unidentified":6.7,"unclassified_Ascomycota":13.2,"Chytridiomycetes":0.3,"Eurotiomycetes":3.1,"Glomeromycetes":0.3,"Pezizomycetes":0.3,"Other":6.6},
{"Compartment":"Bulk soil ITS","Species":"Lactuca serriola","Sordariomycetes":20.8,"Dothideomycetes":14.4,"Leotiomycetes":9.9,"Agaricomycetes":7.6,"Incertae_sedis_10":15.7,"Ascomycota_unidentified":4.6,"unclassified_Ascomycota":9.7,"Chytridiomycetes":0.3,"Eurotiomycetes":3.0,"Glomeromycetes":0.2,"Pezizomycetes":0.2,"Other":13.6},
{"Compartment":"Bulk soil ITS","Species":"Rapistrum rugosum","Sordariomycetes":22.8,"Dothideomycetes":11.3,"Leotiomycetes":7.9,"Agaricomycetes":15.3,"Incertae_sedis_10":13.6,"Ascomycota_unidentified":6.0,"unclassified_Ascomycota":10.3,"Chytridiomycetes":0.3,"Eurotiomycetes":2.1,"Glomeromycetes":0.2,"Pezizomycetes":0.2,"Other":10.0},
{"Compartment":"Bulk soil ITS","Species":"Rorippa austriaca","Sordariomycetes":15.2,"Dothideomycetes":10.7,"Leotiomycetes":12.6,"Agaricomycetes":5.8,"Incertae_sedis_10":1.0,"Ascomycota_unidentified":29.7,"unclassified_Ascomycota":5.0,"Chytridiomycetes":4.7,"Eurotiomycetes":5.8,"Glomeromycetes":0.3,"Pezizomycetes":0.3,"Other":8.9},
{"Compartment":"Bulk soil ITS","Species":"Tragopogon pratensis","Sordariomycetes":21.0,"Dothideomycetes":15.6,"Leotiomycetes":10.3,"Agaricomycetes":6.9,"Incertae_sedis_10":14.9,"Ascomycota_unidentified":5.8,"unclassified_Ascomycota":10.7,"Chytridiomycetes":0.3,"Eurotiomycetes":2.7,"Glomeromycetes":0.2,"Pezizomycetes":0.2,"Other":11.4},
{"Compartment":"Bulk soil ITS","Species":"Geranium pyrenaicum","Sordariomycetes":18.7,"Dothideomycetes":19.1,"Leotiomycetes":9.6,"Agaricomycetes":6.8,"Incertae_sedis_10":15.5,"Ascomycota_unidentified":5.1,"unclassified_Ascomycota":10.7,"Chytridiomycetes":0.3,"Eurotiomycetes":3.5,"Glomeromycetes":0.2,"Pezizomycetes":0.2,"Other":10.3},
{"Compartment":"Bulk soil ITS","Species":"Centaurea stoebe","Sordariomycetes":20.8,"Dothideomycetes":18.9,"Leotiomycetes":9.3,"Agaricomycetes":6.0,"Incertae_sedis_10":13.6,"Ascomycota_unidentified":6.7,"unclassified_Ascomycota":9.0,"Chytridiomycetes":0.3,"Eurotiomycetes":4.0,"Glomeromycetes":0.2,"Pezizomycetes":0.2,"Other":11.0},
{"Compartment":"Bulk soil ITS","Species":"Rorippa sylvestris","Sordariomycetes":23.6,"Dothideomycetes":23.5,"Leotiomycetes":7.7,"Agaricomycetes":5.4,"Incertae_sedis_10":11.1,"Ascomycota_unidentified":4.4,"unclassified_Ascomycota":11.3,"Chytridiomycetes":0.3,"Eurotiomycetes":1.7,"Glomeromycetes":0.2,"Pezizomycetes":0.2,"Other":10.6},
{"Compartment":"Bulk soil ITS","Species":"Tragopogon dubius","Sordariomycetes":19.2,"Dothideomycetes":17.5,"Leotiomycetes":8.8,"Agaricomycetes":8.0,"Incertae_sedis_10":14.9,"Ascomycota_unidentified":5.2,"unclassified_Ascomycota":11.9,"Chytridiomycetes":0.3,"Eurotiomycetes":1.7,"Glomeromycetes":0.2,"Pezizomycetes":0.2,"Other":12.1},
{"Compartment":"Bulk soil ITS","Species":"Geranium molle","Sordariomycetes":18.5,"Dothideomycetes":20.8,"Leotiomycetes":7.6,"Agaricomycetes":6.4,"Incertae_sedis_10":15.1,"Ascomycota_unidentified":3.5,"unclassified_Ascomycota":10.4,"Chytridiomycetes":0.3,"Eurotiomycetes":5.5,"Glomeromycetes":0.2,"Pezizomycetes":0.2,"Other":11.5},
{"Compartment":"Bulk soil ITS","Species":"Centaurea jacea","Sordariomycetes":15.0,"Dothideomycetes":9.2,"Leotiomycetes":11.6,"Agaricomycetes":25.6,"Incertae_sedis_10":7.3,"Ascomycota_unidentified":4.6,"unclassified_Ascomycota":8.7,"Chytridiomycetes":0.3,"Eurotiomycetes":5.8,"Glomeromycetes":0.2,"Pezizomycetes":0.2,"Other":11.5}
]
},
"concat": [
{"resolve": {"scale": {"color": "independent"}, "legend": {"color": "independent"}},
 "vconcat": [
  {
    "width": 217, "height": 186,
    "title": {"text": "Bacteria", "fontSize": 13, "fontWeight": "bold", "offset": 3},
    "view": {"stroke": "#999", "strokeWidth": 1},
    "layer": [
     {"data": {"name": "bacPCA"},
      "mark": {"type": "circle", "size": 46, "opacity": 1, "stroke": "#2b2b2b", "strokeWidth": 0.6},
      "encoding": {
      "x": {"field": "PC1", "type": "quantitative", "scale": {"domain": [-0.0463, 0.113], "nice": false, "zero": false},
            "axis": {"title": "PC1 (50.1%)", "values": [0, 0.05, 0.1], "format": ".2f", "labelFontSize": 9, "titleFontSize": 14, "tickSize": 3, "titlePadding": 2, "domainWidth": 1.2}},
      "y": {"field": "PC3", "type": "quantitative", "scale": {"domain": [-0.156, 0.046], "nice": false, "zero": false},
            "axis": {"title": "PC3 (15.9%)", "values": [-0.15, -0.1, -0.05, 0], "format": ".2f", "labelExpr": "replace(datum.label, '\u2212', '-')", "labelFontSize": 9, "titleFontSize": 14, "tickSize": 3, "titlePadding": 4, "domainWidth": 1.2}},
      "color": {"field": "Type", "type": "nominal", "scale": {"domain": ["Rhizosphere", "Soil"], "range": ["#2b83ba", "#fdae61"]},
            "legend": {"title": null, "orient": "none", "legendX": 224, "legendY": 86, "labelFontSize": 9.5, "labelColor": "#222", "symbolStrokeColor": "#2b2b2b", "symbolStrokeWidth": 0.6, "symbolSize": 45, "symbolOpacity": 1, "rowPadding": 3}}
      }},
     {"data": {"values": [{"label": "a"}]},
      "mark": {"type": "text", "fontSize": 28, "fontWeight": "bold", "font": "Liberation Sans", "color": "#000", "align": "center", "baseline": "middle"},
      "encoding": {"x": {"datum": -0.09}, "y": {"datum": 0.026}, "text": {"field": "label"}}}
    ]
  },
  {
    "width": 221, "height": 186,
    "title": {"text": "Fungi", "fontSize": 13, "fontWeight": "bold", "offset": 3},
    "view": {"stroke": "#999", "strokeWidth": 1},
    "layer": [
     {"data": {"name": "funPCA"},
      "mark": {"type": "circle", "size": 46, "opacity": 1, "stroke": "#2b2b2b", "strokeWidth": 0.6},
      "encoding": {
      "x": {"field": "PC2", "type": "quantitative", "scale": {"domain": [-0.0505, 0.132], "nice": false, "zero": false},
            "axis": {"title": "PC2 (13.8%)", "values": [-0.05, 0, 0.05, 0.1], "format": ".2f", "labelExpr": "replace(datum.label, '\u2212', '-')", "labelFontSize": 9, "titleFontSize": 14, "tickSize": 3, "titlePadding": 2, "domainWidth": 1.2}},
      "y": {"field": "PC3", "type": "quantitative", "scale": {"domain": [-0.14, 0.186], "nice": false, "zero": false},
            "axis": {"title": "PC3 (6.2%)", "values": [-0.1, 0, 0.1], "format": ".1f", "labelExpr": "replace(datum.label, '\u2212', '-')", "labelFontSize": 9, "titleFontSize": 14, "tickSize": 3, "titlePadding": 4, "domainWidth": 1.2}},
      "color": {"field": "Type", "type": "nominal", "scale": {"domain": ["Rhizosphere", "Soil"], "range": ["#2b83ba", "#fdae61"]},
            "legend": {"title": null, "orient": "none", "legendX": 228, "legendY": 80, "labelFontSize": 9.5, "labelColor": "#222", "symbolStrokeColor": "#2b2b2b", "symbolStrokeWidth": 0.6, "symbolSize": 45, "symbolOpacity": 1, "rowPadding": 3}}
      }},
     {"data": {"values": [{"label": "b"}]},
      "mark": {"type": "text", "fontSize": 28, "fontWeight": "bold", "font": "Liberation Sans", "color": "#000", "align": "center", "baseline": "middle"},
      "encoding": {"x": {"datum": -0.096}, "y": {"datum": 0.17}, "text": {"field": "label"}}}
    ]
  }
 ], "spacing": 8},
{"resolve": {"scale": {"color": "independent"}, "legend": {"color": "independent"}},
 "vconcat": [
  {"resolve": {"scale": {"color": "independent"}, "legend": {"color": "independent"}},
   "vconcat": [
    {"width": 10, "height": 1,
     "data": {"values": [{"t": ""}]},
     "mark": {"type": "text"},
     "encoding": {"text": {"field": "t"}}},
    {
    "data": {"name": "bacComp"},
    "transform": [
      {"fold": ["Proteobacteria","Actinobacteria","Acidobacteria","Bacteroidetes","Verrucomicrobia","Thaumarchaeota","Firmicutes","Planctomycetes","Gemmatimonadetes","Chloroflexi","Other"], "as": ["Phylum", "Abundance"]},
      {"window": [{"op": "row_number", "as": "StackRank"}], "groupby": ["Compartment", "Species"]}
    ],
    "title": {"text": "c", "anchor": "start", "frame": "group", "fontSize": 28, "fontWeight": "bold", "dx": -72, "dy": 29, "offset": 0},
    "facet": {"row": {"field": "Compartment", "type": "nominal", "sort": ["Rhizosphere ITS", "Bulk soil ITS"], "title": "Plant Species", "header": {"labels": false, "titleFontSize": 12, "titleFontWeight": "normal", "titleColor": "#111", "titlePadding": 0}}},
    "spacing": {"row": 5},
    "spec": {
      "width": 307, "height": 75,
      "layer": [
        {"mark": {"type": "bar"},
         "encoding": {
           "y": {"field": "Species", "type": "nominal", "sort": ["Dittrichia graveolens","Lactuca serriola","Rapistrum rugosum","Rorippa austriaca","Tragopogon pratensis","Geranium pyrenaicum","Centaurea stoebe","Rorippa sylvestris","Tragopogon dubius","Geranium molle","Centaurea jacea"],
                 "scale": {"paddingInner": 0.12, "paddingOuter": 0.04},
                 "axis": {"title": null, "labelFontSize": 7, "labelColor": "#333", "tickSize": 2, "labelPadding": 1, "domain": false}},
           "x": {"field": "Abundance", "type": "quantitative", "stack": "zero", "scale": {"domain": [0, 107], "nice": false},
                 "axis": {"values": [0, 25, 50, 75, 100], "title": "Relative abundance", "titleFontSize": 12, "labelFontSize": 8, "labelColor": "#333", "domain": false, "tickSize": 3, "titlePadding": 2}},
           "order": {"field": "StackRank", "type": "quantitative", "sort": "ascending"},
           "color": {"field": "Phylum", "type": "nominal",
                 "scale": {"domain": ["Other","Planctomycetes","Verrucomicrobia","Actinobacteria","Chloroflexi","Firmicutes","Bacteroidetes","Proteobacteria","Gemmatimonadetes","Thaumarchaeota","Acidobacteria"],
                           "range": ["#5e4fa2","#abdda4","#fee08b","#d53e4f","#3288bd","#e6f598","#fdae61","#9e0142","#66c2a5","#ffffbf","#f46d43"]},
                 "legend": {"title": "Bacteria", "titleFontSize": 11, "titleFontWeight": "normal", "titleColor": "#111", "titleAnchor": "start", "titlePadding": 4, "orient": "top", "columns": 4, "symbolType": "square", "symbolSize": 45, "symbolStrokeWidth": 0, "labelFontSize": 7.5, "labelColor": "#222", "rowPadding": 0, "columnPadding": 6, "labelLimit": 200, "offset": 4}}
         }},
        {"transform": [{"filter": "datum.Phylum == 'Other' && datum.Species == 'Centaurea jacea'"}],
         "mark": {"type": "rect", "color": "#d4d4d4"},
         "encoding": {"x": {"datum": 100.7}, "x2": {"datum": 107}}},
        {"transform": [{"filter": "datum.Phylum == 'Other' && datum.Species == 'Centaurea jacea'"}],
         "mark": {"type": "text", "angle": 90, "fontSize": 11, "color": "#1a1a1a"},
         "encoding": {"x": {"datum": 103.85}, "text": {"field": "Compartment"}}}
      ]
    }
   }
   ], "spacing": -11},
  {
    "data": {"name": "funComp"},
    "transform": [
      {"fold": ["Sordariomycetes","Dothideomycetes","Leotiomycetes","Agaricomycetes","Incertae_sedis_10","Ascomycota_unidentified","unclassified_Ascomycota","Chytridiomycetes","Eurotiomycetes","Glomeromycetes","Pezizomycetes","Other"], "as": ["Class", "Abundance"]},
      {"window": [{"op": "row_number", "as": "StackRank"}], "groupby": ["Compartment", "Species"]}
    ],
    "title": {"text": "d", "anchor": "start", "frame": "group", "fontSize": 28, "fontWeight": "bold", "dx": -72, "dy": 27, "offset": 0},
    "facet": {"row": {"field": "Compartment", "type": "nominal", "sort": ["Rhizosphere ITS", "Bulk soil ITS"], "title": "Plant Species", "header": {"labels": false, "titleFontSize": 12, "titleFontWeight": "normal", "titleColor": "#111", "titlePadding": 0}}},
    "spacing": {"row": 5},
    "spec": {
      "width": 307, "height": 75,
      "layer": [
        {"mark": {"type": "bar"},
         "encoding": {
           "y": {"field": "Species", "type": "nominal", "sort": ["Dittrichia graveolens","Lactuca serriola","Rapistrum rugosum","Rorippa austriaca","Tragopogon pratensis","Geranium pyrenaicum","Centaurea stoebe","Rorippa sylvestris","Tragopogon dubius","Geranium molle","Centaurea jacea"],
                 "scale": {"paddingInner": 0.12, "paddingOuter": 0.04},
                 "axis": {"title": null, "labelFontSize": 7, "labelColor": "#333", "tickSize": 2, "labelPadding": 1, "domain": false}},
           "x": {"field": "Abundance", "type": "quantitative", "stack": "zero", "scale": {"domain": [0, 107], "nice": false},
                 "axis": {"values": [0, 25, 50, 75, 100], "title": "Relative abundance", "titleFontSize": 12, "labelFontSize": 8, "labelColor": "#333", "domain": false, "tickSize": 3, "titlePadding": 2}},
           "order": {"field": "StackRank", "type": "quantitative", "sort": "ascending"},
           "color": {"field": "Class", "type": "nominal",
                 "scale": {"domain": ["Other","Eurotiomycetes","Ascomycota_unidentified","Leotiomycetes","Pezizomycetes","Chytridiomycetes","Incertae_sedis_10","Dothideomycetes","Glomeromycetes","unclassified_Ascomycota","Agaricomycetes","Sordariomycetes"],
                           "range": ["#5e4fa2","#98d6a4","#fff1a7","#ee6445","#3683bb","#d1ec9c","#fece7c","#d0384e","#5db7a9","#f4faad","#fb9c59","#9e0142"]},
                 "legend": {"title": "Fungi", "titleFontSize": 11, "titleFontWeight": "normal", "titleColor": "#111", "titleAnchor": "start", "titlePadding": 4, "orient": "top", "columns": 4, "symbolType": "square", "symbolSize": 40, "symbolStrokeWidth": 0, "labelFontSize": 6.5, "labelOffset": 3, "labelColor": "#222", "rowPadding": 0.5, "columnPadding": 3, "labelLimit": 200, "offset": 4}}
         }},
        {"transform": [{"filter": "datum.Class == 'Other' && datum.Species == 'Centaurea jacea'"}],
         "mark": {"type": "rect", "color": "#d4d4d4"},
         "encoding": {"x": {"datum": 100.7}, "x2": {"datum": 107}}},
        {"transform": [{"filter": "datum.Class == 'Other' && datum.Species == 'Centaurea jacea'"}],
         "mark": {"type": "text", "angle": 90, "fontSize": 11, "color": "#1a1a1a"},
         "encoding": {"x": {"datum": 103.85}, "text": {"field": "Compartment"}}}
      ]
    }
  }
 ], "spacing": 3}
],
"columns": 2,
"align": "none",
"spacing": 22
}
